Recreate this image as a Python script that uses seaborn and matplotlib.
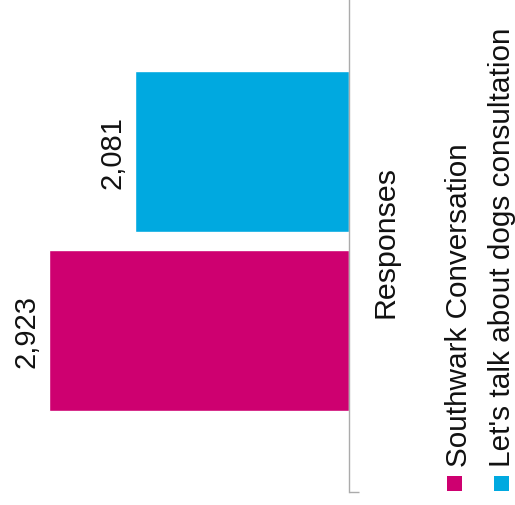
import matplotlib
matplotlib.use("Agg")
import matplotlib.pyplot as plt
from matplotlib.patches import Rectangle
import pandas as pd
import seaborn as sns

# Data
categories = ["Responses"]
series = ["Let's talk about dogs consultation", "Southwark Conversation"]
values = [2081, 2923]
colors = ["#00A9E0", "#CE0070"]
legend_order = ["Southwark Conversation", "Let's talk about dogs consultation"]

sns.set_theme(style="white")
plt.rcParams["font.family"] = ["Liberation Sans", "DejaVu Sans"]

W, H = 515, 506
fig = plt.figure(figsize=(W / 100, H / 100), dpi=100)
fig.patch.set_facecolor("white")

# Axes: value axis grows to the left from the baseline at the right edge
ax = fig.add_axes([0, 13 / H, 349 / W, 493 / H])

df = pd.DataFrame({
    "category": categories * len(series),
    "series": series,
    "value": values,
})

sns.barplot(data=df, x="value", y="category", hue="series", hue_order=series,
            palette=colors, orient="h", width=0.8, gap=0.1, saturation=1,
            legend=False, ax=ax)

ax.set_xlim(3400, 0)
ax.set_ylim(0.562, -0.54)
ax.set_xlabel("")
ax.set_ylabel("")
ax.set_xticks([])

for side in ["left", "top", "bottom"]:
    ax.spines[side].set_visible(False)
ax.spines["right"].set_color("#ABABAB")
ax.spines["right"].set_linewidth(1.0)
ax.yaxis.set_ticks_position("right")
ax.set_yticks([0.562])
ax.set_yticklabels([""])
ax.tick_params(axis="y", direction="out", length=7, width=1.0, color="#ABABAB")

# Value labels at the end of each bar
for container in ax.containers:
    for bar in container:
        v = bar.get_width()
        yc = bar.get_y() + bar.get_height() / 2
        ax.annotate(f"{int(round(v)):,}", xy=(v, yc), xytext=(-10.5, 0),
                    textcoords="offset points", rotation=90,
                    rotation_mode="anchor", ha="center", va="baseline",
                    fontsize=21, color="#111111")

# Category label beside the baseline
ax.annotate(categories[0], xy=(1, 0), xycoords=("axes fraction", "data"),
            xytext=(393 - 349, 0), textcoords="offset pixels", rotation=90,
            rotation_mode="anchor", ha="center", va="baseline",
            fontsize=21.9, color="#111111", annotation_clip=False)

# Legend drawn as rotated entries
legend_colors = {s: c for s, c in zip(series, colors)}
entries = [(legend_order[0], 447, 467), (legend_order[1], 494, 510)]
for name, mx, base_x in entries:
    fig.add_artist(Rectangle((mx / W, 1 - 492 / H), 15 / W, 15 / H,
                             transform=fig.transFigure,
                             facecolor=legend_colors[name], edgecolor="none"))
    fig.text(base_x / W, 1 - 467 / H, name, rotation=90, rotation_mode="anchor",
             ha="left", va="baseline", fontsize=21.4, color="#111111")

fig.savefig("out.png", dpi=100, facecolor="white")
